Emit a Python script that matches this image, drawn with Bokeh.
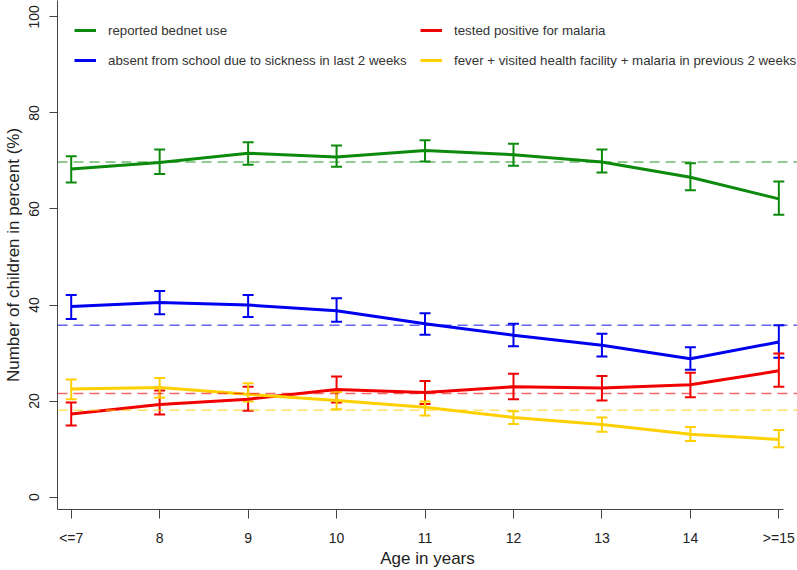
from bokeh.plotting import figure
from bokeh.models import (ColumnDataSource, Whisker, TeeHead, Span, Legend, LegendItem,
                          Range1d, FixedTicker)
from bokeh.embed import file_html
from bokeh.resources import INLINE

ages = ["<=7", "8", "9", "10", "11", "12", "13", "14", ">=15"]

bednet = [68.3, 69.7, 71.6, 70.8, 72.2, 71.3, 69.8, 66.6, 62.1]
bednet_lo = [65.5, 67.3, 69.2, 68.8, 69.9, 69.0, 67.6, 63.9, 58.8]
bednet_hi = [71.0, 72.4, 73.9, 73.2, 74.3, 73.6, 72.4, 69.5, 65.7]
bednet_mean = 69.8

absent = [39.7, 40.5, 40.0, 38.8, 36.1, 33.7, 31.6, 28.8, 32.3]
absent_lo = [37.1, 38.1, 37.5, 36.5, 33.8, 31.4, 29.3, 26.5, 29.0]
absent_hi = [42.1, 42.9, 42.1, 41.4, 38.3, 36.1, 34.0, 31.2, 35.8]
absent_mean = 35.8

malaria = [17.3, 19.3, 20.4, 22.4, 21.8, 23.0, 22.7, 23.4, 26.3]
malaria_lo = [14.9, 17.2, 18.0, 19.7, 19.4, 20.4, 20.1, 20.8, 23.0]
malaria_hi = [19.7, 22.2, 23.0, 25.1, 24.2, 25.7, 25.2, 25.9, 29.9]
malaria_mean = 21.6

fever = [22.5, 22.8, 21.4, 20.1, 18.7, 16.6, 15.1, 13.1, 12.0]
fever_lo = [20.4, 20.7, 19.9, 18.3, 17.0, 15.2, 13.6, 11.7, 10.4]
fever_hi = [24.5, 24.8, 23.7, 21.9, 19.9, 17.9, 16.6, 14.6, 14.0]
fever_mean = 18.1

series = [
    ("reported bednet use", bednet, bednet_lo, bednet_hi, bednet_mean, "#0b8a0b"),
    ("absent from school due to sickness in last 2 weeks", absent, absent_lo, absent_hi, absent_mean, "#0000f0"),
    ("tested positive for malaria", malaria, malaria_lo, malaria_hi, malaria_mean, "#f00000"),
    ("fever + visited health facility + malaria in previous 2 weeks", fever, fever_lo, fever_hi, fever_mean, "#ffd000"),
]

xs = list(range(1, len(ages) + 1))
x_start, x_axis_end, x_view_end = 0.845, 9.053, 9.211

p = figure(width=797, height=570, output_backend="svg", toolbar_location=None,
           x_range=Range1d(x_start, x_view_end), y_range=Range1d(-2.58, 103.41),
           min_border_left=57, min_border_right=0, min_border_top=0, min_border_bottom=57)
p.outline_line_color = None
p.grid.visible = False
p.background_fill_color = "white"
p.border_fill_color = "white"

FONT = "Liberation Sans"
axis_col = "#444444"

p.xaxis.ticker = FixedTicker(ticks=xs)
p.xaxis.major_label_overrides = {x: a for x, a in zip(xs, ages)}
p.xaxis.bounds = (x_start, x_axis_end)
p.yaxis.ticker = FixedTicker(ticks=[0, 20, 40, 60, 80, 100])
for ax in (p.xaxis, p.yaxis):
    ax.axis_line_color = axis_col
    ax.major_tick_line_color = axis_col
    ax.minor_tick_line_color = None
    ax.major_tick_in = 0
    ax.major_label_text_font = FONT
    ax.major_label_text_font_size = "14px"
    ax.major_label_text_color = "#222222"
    ax.axis_label_text_font = FONT
    ax.axis_label_text_font_size = "17px"
    ax.axis_label_text_font_style = "normal"
    ax.axis_label_text_color = "#222222"
p.xaxis.major_tick_out = 9
p.yaxis.major_tick_out = 8
p.yaxis.major_label_orientation = "vertical"
p.xaxis.major_label_standoff = 11
p.yaxis.major_label_standoff = 10
p.xaxis.axis_label = "Age in years"
p.yaxis.axis_label = "Number of children in percent (%)"
p.xaxis.axis_label_standoff = 0
p.yaxis.axis_label_standoff = 4

renderers = {}
for name, vals, lo, hi, mean, col in series:
    src = ColumnDataSource(dict(x=xs, y=vals, lo=lo, hi=hi))
    p.add_layout(Span(location=mean, dimension="width", line_color=col, line_alpha=0.6,
                      line_width=1.5, line_dash="10 6"))
    r = p.line("x", "y", source=src, line_color=col, line_width=3)
    w = Whisker(base="x", upper="hi", lower="lo", source=src, line_color=col, line_width=2,
                upper_head=TeeHead(size=11, line_color=col, line_width=2),
                lower_head=TeeHead(size=11, line_color=col, line_width=2))
    p.add_layout(w)
    renderers[name] = r

order = [s[0] for s in series]
legend = Legend(items=[LegendItem(label=n, renderers=[renderers[n]]) for n in order],
                ncols=2, orientation="vertical", location=(17, 439),
                border_line_color=None, background_fill_alpha=0, padding=0, margin=0,
                glyph_width=22, glyph_height=20, label_height=20, label_width=302,
                label_standoff=12, spacing=10, label_text_font=FONT,
                label_text_font_size="13.3px", label_text_color="#333333")
p.add_layout(legend)

open("out.html", "w").write(file_html(p, INLINE))
